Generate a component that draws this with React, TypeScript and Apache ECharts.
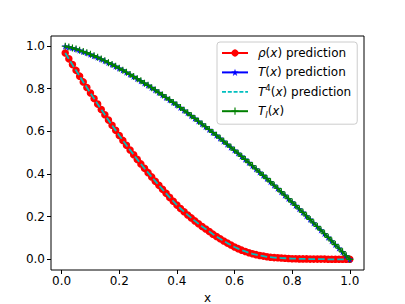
import React, { useEffect, useRef } from "react";
import * as echarts from "echarts";

const xValues = [
  0.0125, 0.025, 0.0375, 0.05, 0.0625, 0.075, 0.0875, 0.1, 0.1125, 0.125,
  0.1375, 0.15, 0.1625, 0.175, 0.1875, 0.2, 0.2125, 0.225, 0.2375, 0.25,
  0.2625, 0.275, 0.2875, 0.3, 0.3125, 0.325, 0.3375, 0.35, 0.3625, 0.375,
  0.3875, 0.4, 0.4125, 0.425, 0.4375, 0.45, 0.4625, 0.475, 0.4875, 0.5,
  0.5125, 0.525, 0.5375, 0.55, 0.5625, 0.575, 0.5875, 0.6, 0.6125, 0.625,
  0.6375, 0.65, 0.6625, 0.675, 0.6875, 0.7, 0.7125, 0.725, 0.7375, 0.75,
  0.7625, 0.775, 0.7875, 0.8, 0.8125, 0.825, 0.8375, 0.85, 0.8625, 0.875,
  0.8875, 0.9, 0.9125, 0.925, 0.9375, 0.95, 0.9625, 0.975, 0.9875, 1.0,
];

const rhoPred = [
  0.966, 0.939, 0.912, 0.885, 0.858, 0.831, 0.805, 0.779, 0.753, 0.727,
  0.702, 0.677, 0.652, 0.628, 0.604, 0.58, 0.557, 0.534, 0.512, 0.49,
  0.468, 0.447, 0.426, 0.406, 0.386, 0.366, 0.347, 0.328, 0.309, 0.29,
  0.272, 0.254, 0.238, 0.223, 0.208, 0.194, 0.18, 0.167, 0.154, 0.142,
  0.13, 0.118, 0.107, 0.096, 0.086, 0.076, 0.067, 0.058, 0.05, 0.043,
  0.037, 0.031, 0.026, 0.022, 0.018, 0.015, 0.012, 0.01, 0.008, 0.007,
  0.006, 0.005, 0.004, 0.003, 0.003, 0.002, 0.002, 0.002, 0.001, 0.001,
  0.001, 0.001, 0.001, 0.0, 0.0, 0.0, 0.0, 0.0, 0.0, 0.0,
];

const tPred = [
  0.998, 0.994, 0.99, 0.985, 0.979, 0.973, 0.967, 0.96, 0.953, 0.946,
  0.938, 0.93, 0.921, 0.913, 0.904, 0.895, 0.886, 0.876, 0.866, 0.856,
  0.846, 0.836, 0.825, 0.815, 0.804, 0.793, 0.781, 0.77, 0.758, 0.747,
  0.735, 0.723, 0.711, 0.698, 0.686, 0.673, 0.66, 0.647, 0.634, 0.621,
  0.608, 0.594, 0.581, 0.567, 0.553, 0.539, 0.525, 0.511, 0.497, 0.482,
  0.468, 0.453, 0.438, 0.423, 0.408, 0.393, 0.378, 0.363, 0.347, 0.332,
  0.316, 0.3, 0.284, 0.268, 0.252, 0.236, 0.22, 0.203, 0.187, 0.17,
  0.154, 0.137, 0.12, 0.103, 0.086, 0.069, 0.052, 0.035, 0.017, 0.0,
];

const t4Pred = [
  0.966, 0.939, 0.912, 0.885, 0.858, 0.831, 0.805, 0.779, 0.753, 0.727,
  0.702, 0.677, 0.652, 0.628, 0.604, 0.58, 0.557, 0.534, 0.512, 0.49,
  0.468, 0.447, 0.426, 0.406, 0.386, 0.366, 0.347, 0.328, 0.309, 0.29,
  0.272, 0.254, 0.238, 0.223, 0.208, 0.194, 0.18, 0.167, 0.154, 0.142,
  0.13, 0.118, 0.107, 0.096, 0.086, 0.076, 0.067, 0.058, 0.05, 0.043,
  0.037, 0.031, 0.026, 0.022, 0.018, 0.015, 0.012, 0.01, 0.008, 0.007,
  0.006, 0.005, 0.004, 0.003, 0.003, 0.002, 0.002, 0.002, 0.001, 0.001,
  0.001, 0.001, 0.001, 0.0, 0.0, 0.0, 0.0, 0.0, 0.0, 0.0,
];

const tlValues = [
  0.998, 0.994, 0.99, 0.985, 0.979, 0.973, 0.967, 0.96, 0.953, 0.946,
  0.938, 0.93, 0.921, 0.913, 0.904, 0.895, 0.886, 0.876, 0.866, 0.856,
  0.846, 0.836, 0.825, 0.815, 0.804, 0.793, 0.781, 0.77, 0.758, 0.747,
  0.735, 0.723, 0.711, 0.698, 0.686, 0.673, 0.66, 0.647, 0.634, 0.621,
  0.608, 0.594, 0.581, 0.567, 0.553, 0.539, 0.525, 0.511, 0.497, 0.482,
  0.468, 0.453, 0.438, 0.423, 0.408, 0.393, 0.378, 0.363, 0.347, 0.332,
  0.316, 0.3, 0.284, 0.268, 0.252, 0.236, 0.22, 0.203, 0.187, 0.17,
  0.154, 0.137, 0.12, 0.103, 0.086, 0.069, 0.052, 0.035, 0.017, 0.0,
];

const xTicks = [0, 0.2, 0.4, 0.6, 0.8, 1.0];
const yTicks = [0, 0.2, 0.4, 0.6, 0.8, 1.0];

const seriesNames = ["rho", "T", "T4", "Tl"];
const legendLabels: Record<string, string> = {
  rho: "{i|ρ}({i|x}) prediction",
  T: "{i|T}({i|x}) prediction",
  T4: "{i|T}{sup|4}({i|x}) prediction",
  Tl: "{i|T}{sub|l}({i|x})",
};

const STAR =
  "path://M0,-10L2.245,-3.09L9.51,-3.09L3.633,1.18L5.88,8.09L0,3.82L-5.88,8.09L-3.633,1.18L-9.51,-3.09L-2.245,-3.09Z";
const PLUS = "path://M-0.8,-5H0.8V-0.8H5V0.8H0.8V5H-0.8V0.8H-5V-0.8H-0.8Z";

const FONT = "DejaVu Sans";

function pair(ys: number[]) {
  return xValues.map((x, i) => [x, ys[i]]);
}

export default function App() {
  const ref = useRef<HTMLDivElement>(null);

  useEffect(() => {
    if (!ref.current) return;
    const chart = echarts.init(ref.current, null, { renderer: "svg" });
    const tickStyle = { color: "#000", width: 1 };
    chart.setOption({
      animation: false,
      backgroundColor: "#ffffff",
      grid: {
        left: 51,
        right: 41,
        top: 36,
        bottom: 34,
        show: true,
        borderColor: "#000",
        borderWidth: 1,
        backgroundColor: "transparent",
        containLabel: false,
        outerBoundsMode: "none",
      },
      xAxis: {
        type: "value",
        min: -0.0369,
        max: 1.0494,
        name: "x",
        nameLocation: "middle",
        nameGap: 22,
        nameTextStyle: { fontSize: 12, fontFamily: FONT, color: "#000" },
        axisLine: { show: false, onZero: false },
        splitLine: { show: false },
        axisTick: { show: true, inside: false, length: 4, lineStyle: tickStyle, customValues: xTicks },
        axisLabel: {
          customValues: xTicks,
          formatter: (v: number) => v.toFixed(1),
          fontSize: 12,
          fontFamily: FONT,
          color: "#000",
          margin: 5,
        },
      },
      yAxis: {
        type: "value",
        min: -0.05,
        max: 1.046,
        axisLine: { show: false, onZero: false },
        splitLine: { show: false },
        axisTick: { show: true, inside: false, length: 4, lineStyle: tickStyle, customValues: yTicks },
        axisLabel: {
          customValues: yTicks,
          formatter: (v: number) => v.toFixed(1),
          fontSize: 12,
          fontFamily: FONT,
          color: "#000",
          margin: 6,
        },
      },
      legend: {
        orient: "vertical",
        left: 217,
        top: 42,
        padding: [3, 6, 5, 4],
        itemGap: 3.4,
        itemWidth: 26,
        itemHeight: 9,
        selectedMode: false,
        backgroundColor: "rgba(255,255,255,0.8)",
        borderColor: "#cccccc",
        borderWidth: 1,
        borderRadius: 3,
        data: [
          { name: seriesNames[0] },
          { name: seriesNames[1] },
          {
            name: seriesNames[2],
            itemStyle: { opacity: 0, color: "rgba(0,0,0,0)", borderWidth: 0 },
            lineStyle: { color: "#00bfbf", width: 1.8, type: [4, 1.8] },
          },
          { name: seriesNames[3] },
        ],
        formatter: (name: string) => legendLabels[name] || name,
        textStyle: {
          fontSize: 12,
          fontFamily: FONT,
          color: "#000",
          lineHeight: 16,
          padding: [0, 0, 0, 5],
          rich: {
            i: { fontStyle: "italic", fontSize: 12, fontFamily: FONT, color: "#000", lineHeight: 16 },
            sup: { fontSize: 8.5, fontFamily: FONT, color: "#000", lineHeight: 9, verticalAlign: "top" },
            sub: { fontStyle: "italic", fontSize: 8.5, fontFamily: FONT, color: "#000", lineHeight: 9, verticalAlign: "bottom" },
          },
        },
      },
      series: [
        {
          name: seriesNames[0],
          type: "line",
          z: 2,
          data: pair(rhoPred),
          symbol: "circle",
          symbolSize: 7.5,
          showSymbol: true,
          lineStyle: { color: "#ff0000", width: 1.8 },
          itemStyle: { color: "#ff0000" },
          silent: true,
        },
        {
          name: seriesNames[1],
          type: "line",
          z: 3,
          data: pair(tPred),
          symbol: STAR,
          symbolSize: [7.2, 6.8],
          showSymbol: true,
          lineStyle: { color: "#0000ff", width: 1.8 },
          itemStyle: { color: "#0000ff" },
          silent: true,
        },
        {
          name: seriesNames[2],
          type: "line",
          z: 4,
          data: pair(t4Pred),
          symbol: "none",
          lineStyle: { color: "#00bfbf", width: 1.8, type: [6.7, 2.9] },
          itemStyle: { color: "#00bfbf" },
          silent: true,
        },
        {
          name: seriesNames[3],
          type: "line",
          z: 5,
          data: pair(tlValues),
          symbol: PLUS,
          symbolSize: 7,
          showSymbol: true,
          lineStyle: { color: "#008000", width: 1.8 },
          itemStyle: { color: "#008000" },
          silent: true,
        },
      ],
    });
    return () => {
      chart.dispose();
    };
  }, []);

  return (
    <div
      ref={ref}
      style={{ position: "absolute", left: 0, top: 0, width: 405, height: 304 }}
    />
  );
}
